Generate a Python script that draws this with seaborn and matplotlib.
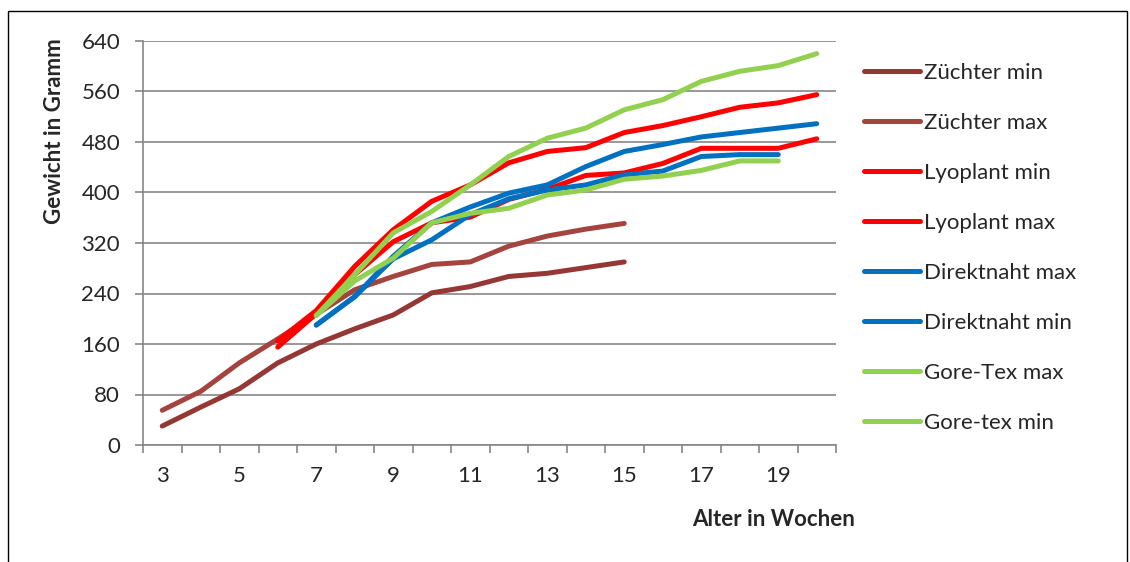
import numpy as np
import pandas as pd
import matplotlib
matplotlib.use("Agg")
import matplotlib.pyplot as plt
from matplotlib.lines import Line2D
from matplotlib.patches import Rectangle
import seaborn as sns

# weeks (category axis 3..20)
weeks = list(range(3, 21))

# values (None = no value)
zuechter_min = [30, 60, 89, 130, 160, 184, 206, 241, 251, 267, 272, 281, 290, None, None, None, None, None]
zuechter_max = [55, 85, 130, 168, 207, 246, 267, 286, 290, 315, 331, 342, 351, None, None, None, None, None]
lyoplant_min = [None, None, None, 155, 208, 270, 322, 352, 361, 389, 405, 427, 431, 446, 470, 470, 470, 485]
lyoplant_max = [None, None, None, 165, 213, 283, 341, 386, 412, 447, 465, 471, 495, 506, 520, 535, 542, 555]
direkt_max = [None, None, None, None, 190, 235, 299, 352, 377, 399, 412, 441, 465, 476, 488, 495, 502, 509]
direkt_min = [None, None, None, None, 190, 235, 295, 325, 365, 390, 404, 412, 428, 434, 457, 460, 460, None]
gore_max = [None, None, None, None, 205, 270, 336, 370, 412, 457, 486, 502, 531, 547, 576, 592, 601, 620]
gore_min = [None, None, None, None, 205, 260, 296, 352, 367, 375, 396, 404, 421, 426, 435, 450, 450, None]

series_names = ["Züchter min", "Züchter max", "Lyoplant min", "Lyoplant max",
                "Direktnaht max", "Direktnaht min", "Gore-Tex max", "Gore-tex min"]
series_values = [zuechter_min, zuechter_max, lyoplant_min, lyoplant_max,
                 direkt_max, direkt_min, gore_max, gore_min]
colors = ["#953735", "#A4443F", "#FF0000", "#FF0000",
          "#0070C0", "#0070C0", "#92D050", "#92D050"]

y_ticks = [0, 80, 160, 240, 320, 400, 480, 560, 640]
x_tick_labels = [3, 5, 7, 9, 11, 13, 15, 17, 19]

rows = []
for name, vals in zip(series_names, series_values):
    for w, v in zip(weeks, vals):
        if v is not None:
            rows.append({"week": w, "gewicht": v, "serie": name})
df = pd.DataFrame(rows)

sns.set_style("white")
plt.rcParams["font.family"] = ["Lato", "DejaVu Sans"]
fs = 16

fig = plt.figure(figsize=(11.3, 5.62), dpi=100)
ax = fig.add_axes([143 / 1130, 1 - 445 / 562, 693 / 1130, 404 / 562])

palette = dict(zip(series_names, colors))
sns.lineplot(data=df, x="week", y="gewicht", hue="serie", hue_order=series_names,
             palette=palette, linewidth=3.6, errorbar=None, legend=False, ax=ax,
             solid_capstyle="round", solid_joinstyle="round")

grid_c = "#868686"
ax.set_xlim(2.5, 20.5)
ax.set_ylim(0, 640)
ax.set_yticks(y_ticks)
ax.set_xticks(x_tick_labels)
ax.set_xticklabels([str(x) for x in x_tick_labels])
ax.set_xticks(np.arange(2.5, 21.0, 1.0), minor=True)
ax.yaxis.grid(True, color=grid_c, linewidth=1.2)
ax.set_axisbelow(True)
for s in ["top", "right"]:
    ax.spines[s].set_visible(False)
for s in ["left", "bottom"]:
    ax.spines[s].set_color(grid_c)
    ax.spines[s].set_linewidth(1.2)
ax.tick_params(axis="y", which="major", length=5.5, width=1.2, color=grid_c,
               labelsize=fs, pad=11, left=True)
ax.tick_params(axis="x", which="major", length=0, labelsize=fs, pad=15, bottom=True)
ax.tick_params(axis="x", which="minor", length=5.5, width=1.2, color=grid_c, bottom=True)
ax.set_xlabel("")
ax.set_ylabel("")

fig.text(55 / 1130, 1 - 131 / 562, "Gewicht in Gramm", rotation=90, fontsize=fs,
         fontweight="bold", ha="center", va="center")
fig.text(774 / 1130, 1 - 520 / 562, "Alter in Wochen", fontsize=fs,
         fontweight="bold", ha="center", va="center")

handles = [Line2D([], [], color=c, linewidth=3.6, solid_capstyle="round") for c in colors]
fig.legend(handles, series_names, loc="upper left", bbox_to_anchor=(864 / 1130, 1 - 63 / 562),
           frameon=False, fontsize=fs, handlelength=2.5, handletextpad=0.18,
           labelspacing=1.35, borderpad=0, borderaxespad=0)

fig.patches.append(Rectangle((8 / 1130, -0.05), 1119 / 1130, 1.05 - 11 / 562,
                             transform=fig.transFigure, fill=False,
                             edgecolor="black", linewidth=1.0))

fig.savefig("out.png", dpi=100)
